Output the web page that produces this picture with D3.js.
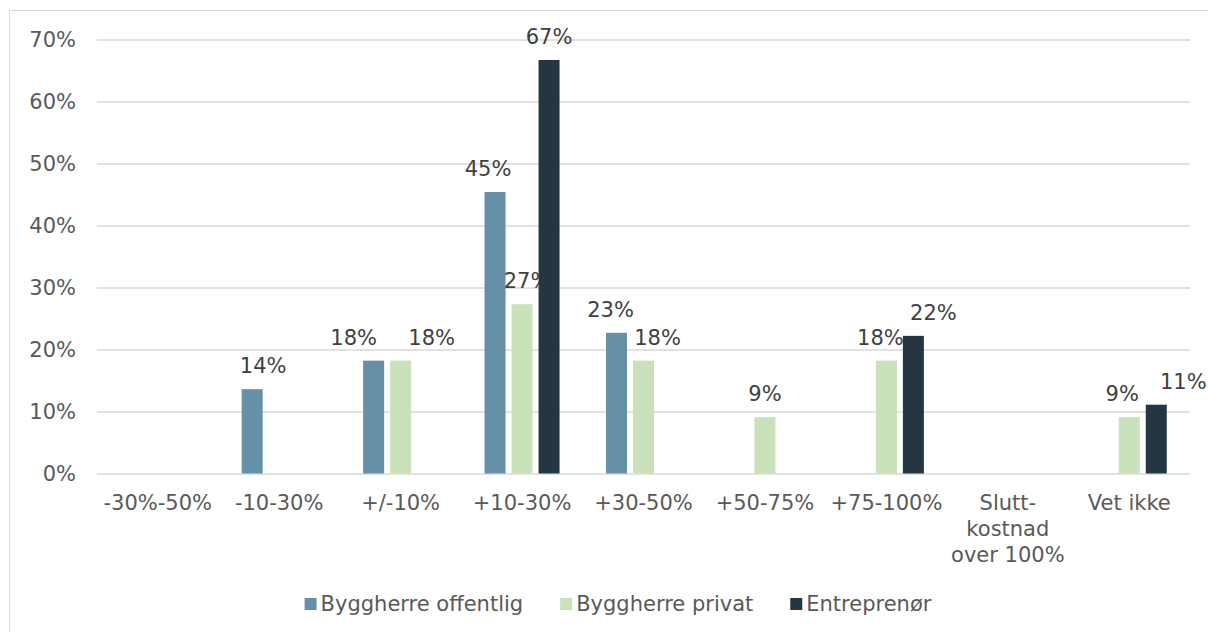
<!DOCTYPE html>
<html>
<head>
<meta charset="utf-8">
<script src="https://cdn.jsdelivr.net/npm/d3@7"></script>
<style>
  body { margin: 0; background: #fff; }
  svg text { font-family: "DejaVu Sans", "Verdana", sans-serif; }
</style>
</head>
<body>
<svg id="drawing_region"></svg>
<script>
// data (percent)
const categories = ["-30%-50%", "-10-30%", "+/-10%", "+10-30%", "+30-50%", "+50-75%", "+75-100%", "Slutt-kostnad over 100%", "Vet ikke"];
const seriesNames = ["Byggherre offentlig", "Byggherre privat", "Entreprenør"];
const offentlig = [0, 13.6, 18.2, 45.4, 22.7, 0, 0, 0, 0];
const privat = [0, 0, 18.2, 27.3, 18.2, 9.1, 18.2, 0, 9.1];
const entreprenor = [0, 0, 0, 66.7, 0, 0, 22.2, 0, 11.1];
const yTicks = [0, 10, 20, 30, 40, 50, 60, 70];

const colors = ["#6590a8", "#c9e2b9", "#243642"];
// wrapped lines for the long category label
const catLines = {"Slutt-kostnad over 100%": ["Slutt-", "kostnad", "over 100%"]};
// small horizontal nudges of value labels, as placed in the original
const labelNudge = {
    "1-0": 11, "2-0": -20, "2-1": 31, "3-0": -7, "3-1": 5,
    "4-0": -6, "4-1": 14, "6-1": -6, "6-2": 20, "8-1": -7, "8-2": 27
};

const FONT = '"DejaVu Sans", Verdana, sans-serif';
const FS = '21px';
const width = 1208, height = 632;
const margin = {top: 39.5, right: 18, bottom: 158.5, left: 97};

const svg = d3.select('#drawing_region')
    .attr('width', width)
    .attr('height', height);

// outer chart frame
svg.append('rect')
    .attr('x', 9.5).attr('y', 10.5)
    .attr('width', width + 10).attr('height', height + 10)
    .attr('fill', 'none')
    .attr('stroke', '#d9d9d9');

const inner_width = width - margin.left - margin.right;
const inner_height = height - margin.top - margin.bottom;

const chart = svg.append('g')
    .attr('transform', `translate(${margin.left}, ${margin.top})`);

const xscale = d3.scaleBand()
    .domain(categories)
    .range([0, inner_width]);

const barWidth = 21, barGap = 6;
const sub = d3.scaleBand()
    .domain(d3.range(seriesNames.length))
    .range([0, 3 * barWidth + 2 * barGap])
    .paddingInner(barGap / (barWidth + barGap));

const yscale = d3.scaleLinear()
    .domain([0, 70])
    .range([inner_height, 0]);

// grid lines + y labels
const yaxis = d3.axisLeft(yscale)
    .tickValues(yTicks)
    .tickSize(-inner_width)
    .tickPadding(21)
    .tickFormat(d => d + '%');

const yg = chart.append('g').call(yaxis).attr('font-family', FONT);
yg.select('.domain').remove();
yg.selectAll('.tick line').attr('stroke', '#d9d9d9').attr('stroke-width', 1.3);
yg.selectAll('.tick text')
    .attr('fill', '#595959')
    .attr('font-size', FS);

// x labels
const xg = chart.append('g')
    .attr('transform', `translate(0, ${inner_height})`)
    .call(d3.axisBottom(xscale).tickSize(0).tickPadding(0).tickFormat(''))
    .attr('font-family', FONT);
xg.select('.domain').remove();
xg.selectAll('.tick').each(function(d) {
    const lines = catLines[d] || [d];
    const t = d3.select(this).append('text')
        .attr('fill', '#595959')
        .attr('font-size', FS)
        .attr('text-anchor', 'middle');
    lines.forEach((l, i) => {
        t.append('tspan').attr('x', 0).attr('y', 36 + i * 26).text(l);
    });
});

// bars
const seriesData = [offentlig, privat, entreprenor];
const groupOffset = -sub.range()[1] / 2;

seriesData.forEach((vals, s) => {
    const rows = vals.map((v, i) => ({cat: categories[i], i: i, v: v}))
        .filter(d => d.v > 0);

    chart.selectAll(null)
        .data(rows)
        .enter()
        .append('rect')
        .attr('x', d => xscale(d.cat) + xscale.bandwidth() / 2 + groupOffset + sub(s))
        .attr('y', d => yscale(d.v))
        .attr('width', sub.bandwidth())
        .attr('height', d => yscale(0) - yscale(d.v))
        .attr('fill', colors[s]);

    chart.selectAll(null)
        .data(rows)
        .enter()
        .append('text')
        .attr('x', d => xscale(d.cat) + xscale.bandwidth() / 2 + groupOffset + sub(s) + sub.bandwidth() / 2 + (labelNudge[d.i + '-' + s] || 0))
        .attr('y', d => yscale(d.v) - 16)
        .attr('text-anchor', 'middle')
        .attr('fill', '#404040')
        .attr('font-size', FS)
        .text(d => Math.round(d.v) + '%');
});

// legend, laid out from measured text widths and centred
const legend = svg.append('g');
const items = seriesNames.map((name, s) => {
    const g = legend.append('g');
    g.append('rect')
        .attr('y', 598)
        .attr('width', 12).attr('height', 12)
        .attr('fill', colors[s]);
    const t = g.append('text')
        .attr('x', 16).attr('y', 611)
        .attr('fill', '#595959')
        .attr('font-size', FS)
        .text(name);
    return {g: g, w: 16 + t.node().getComputedTextLength()};
});
const itemGap = 37;
const total = d3.sum(items, d => d.w) + itemGap * (items.length - 1);
let lx = 618 - total / 2;
items.forEach(it => {
    it.g.attr('transform', `translate(${lx}, 0)`);
    lx += it.w + itemGap;
});
</script>
</body>
</html>
